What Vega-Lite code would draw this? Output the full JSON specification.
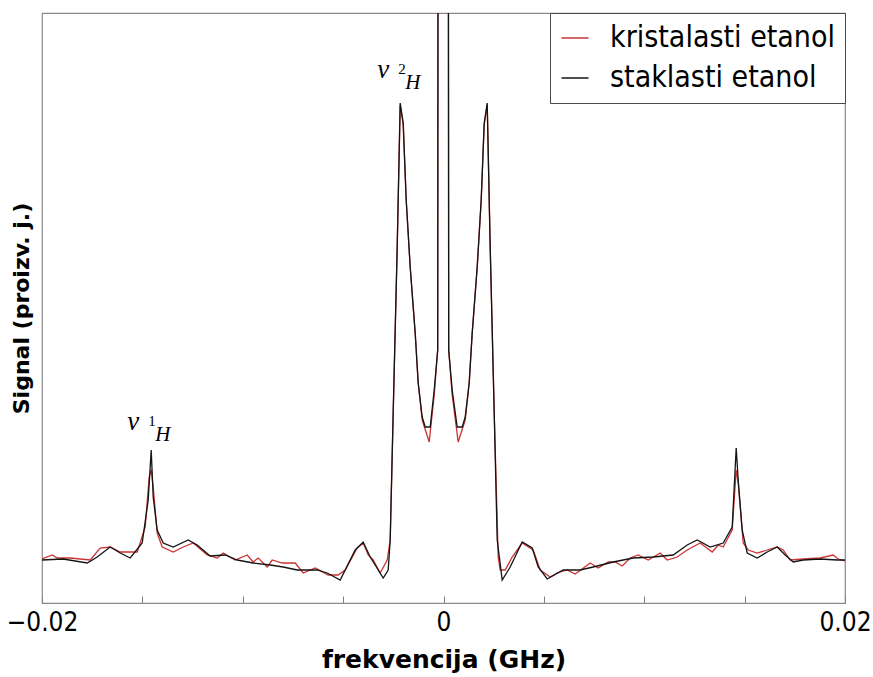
{
  "$schema": "https://vega.github.io/schema/vega-lite/v6.json",
  "width": 803,
  "height": 590,
  "autosize": {"type": "none"},
  "padding": {"left": 42, "top": 13, "right": 28, "bottom": 74},
  "background": "white",
  "config": {"view": {"stroke": "#8a8a8a", "strokeWidth": 1.2}},
  "datasets": {
    "spectra": [
      {"sample": "kristalasti etanol", "f": -0.02, "signal": 44},
      {"sample": "kristalasti etanol", "f": -0.019492, "signal": 48},
      {"sample": "kristalasti etanol", "f": -0.019243, "signal": 45},
      {"sample": "kristalasti etanol", "f": -0.018595, "signal": 45},
      {"sample": "kristalasti etanol", "f": -0.017599, "signal": 43},
      {"sample": "kristalasti etanol", "f": -0.017101, "signal": 55},
      {"sample": "kristalasti etanol", "f": -0.016603, "signal": 56},
      {"sample": "kristalasti etanol", "f": -0.016105, "signal": 51},
      {"sample": "kristalasti etanol", "f": -0.015258, "signal": 51},
      {"sample": "kristalasti etanol", "f": -0.014859, "signal": 76},
      {"sample": "kristalasti etanol", "f": -0.01466, "signal": 126},
      {"sample": "kristalasti etanol", "f": -0.01456, "signal": 133},
      {"sample": "kristalasti etanol", "f": -0.014461, "signal": 116},
      {"sample": "kristalasti etanol", "f": -0.014262, "signal": 70},
      {"sample": "kristalasti etanol", "f": -0.014013, "signal": 56},
      {"sample": "kristalasti etanol", "f": -0.013464, "signal": 51},
      {"sample": "kristalasti etanol", "f": -0.012966, "signal": 56},
      {"sample": "kristalasti etanol", "f": -0.012468, "signal": 60},
      {"sample": "kristalasti etanol", "f": -0.011771, "signal": 48},
      {"sample": "kristalasti etanol", "f": -0.011273, "signal": 45},
      {"sample": "kristalasti etanol", "f": -0.010974, "signal": 50},
      {"sample": "kristalasti etanol", "f": -0.010376, "signal": 43},
      {"sample": "kristalasti etanol", "f": -0.009778, "signal": 48},
      {"sample": "kristalasti etanol", "f": -0.00948, "signal": 41},
      {"sample": "kristalasti etanol", "f": -0.00923, "signal": 45},
      {"sample": "kristalasti etanol", "f": -0.008782, "signal": 36},
      {"sample": "kristalasti etanol", "f": -0.008533, "signal": 43},
      {"sample": "kristalasti etanol", "f": -0.008035, "signal": 40},
      {"sample": "kristalasti etanol", "f": -0.007387, "signal": 40},
      {"sample": "kristalasti etanol", "f": -0.006989, "signal": 30},
      {"sample": "kristalasti etanol", "f": -0.006391, "signal": 35},
      {"sample": "kristalasti etanol", "f": -0.005744, "signal": 28},
      {"sample": "kristalasti etanol", "f": -0.005245, "signal": 28},
      {"sample": "kristalasti etanol", "f": -0.004897, "signal": 33},
      {"sample": "kristalasti etanol", "f": -0.004299, "signal": 55},
      {"sample": "kristalasti etanol", "f": -0.004, "signal": 60},
      {"sample": "kristalasti etanol", "f": -0.003751, "signal": 48},
      {"sample": "kristalasti etanol", "f": -0.003502, "signal": 43},
      {"sample": "kristalasti etanol", "f": -0.003153, "signal": 30},
      {"sample": "kristalasti etanol", "f": -0.002804, "signal": 43},
      {"sample": "kristalasti etanol", "f": -0.002655, "signal": 63},
      {"sample": "kristalasti etanol", "f": -0.002506, "signal": 190},
      {"sample": "kristalasti etanol", "f": -0.002306, "signal": 356},
      {"sample": "kristalasti etanol", "f": -0.002157, "signal": 498},
      {"sample": "kristalasti etanol", "f": -0.002007, "signal": 478},
      {"sample": "kristalasti etanol", "f": -0.001858, "signal": 403},
      {"sample": "kristalasti etanol", "f": -0.001659, "signal": 336},
      {"sample": "kristalasti etanol", "f": -0.00141, "signal": 270},
      {"sample": "kristalasti etanol", "f": -0.00126, "signal": 220},
      {"sample": "kristalasti etanol", "f": -0.001061, "signal": 183},
      {"sample": "kristalasti etanol", "f": -0.000712, "signal": 161},
      {"sample": "kristalasti etanol", "f": -0.000463, "signal": 208},
      {"sample": "kristalasti etanol", "f": -0.000289, "signal": 253},
      {"sample": "kristalasti etanol", "f": -0.000264, "signal": 900},
      {"sample": "kristalasti etanol", "f": 0.000234, "signal": 900},
      {"sample": "kristalasti etanol", "f": 0.000259, "signal": 253},
      {"sample": "kristalasti etanol", "f": 0.000433, "signal": 208},
      {"sample": "kristalasti etanol", "f": 0.000732, "signal": 161},
      {"sample": "kristalasti etanol", "f": 0.001081, "signal": 183},
      {"sample": "kristalasti etanol", "f": 0.00128, "signal": 220},
      {"sample": "kristalasti etanol", "f": 0.00143, "signal": 270},
      {"sample": "kristalasti etanol", "f": 0.001679, "signal": 336},
      {"sample": "kristalasti etanol", "f": 0.001878, "signal": 403},
      {"sample": "kristalasti etanol", "f": 0.002027, "signal": 478},
      {"sample": "kristalasti etanol", "f": 0.002177, "signal": 498},
      {"sample": "kristalasti etanol", "f": 0.002326, "signal": 356},
      {"sample": "kristalasti etanol", "f": 0.002526, "signal": 190},
      {"sample": "kristalasti etanol", "f": 0.002725, "signal": 46},
      {"sample": "kristalasti etanol", "f": 0.002824, "signal": 33},
      {"sample": "kristalasti etanol", "f": 0.003074, "signal": 33},
      {"sample": "kristalasti etanol", "f": 0.003422, "signal": 46},
      {"sample": "kristalasti etanol", "f": 0.00392, "signal": 60},
      {"sample": "kristalasti etanol", "f": 0.004468, "signal": 53},
      {"sample": "kristalasti etanol", "f": 0.004817, "signal": 33},
      {"sample": "kristalasti etanol", "f": 0.005315, "signal": 26},
      {"sample": "kristalasti etanol", "f": 0.005664, "signal": 30},
      {"sample": "kristalasti etanol", "f": 0.006162, "signal": 33},
      {"sample": "kristalasti etanol", "f": 0.00656, "signal": 29},
      {"sample": "kristalasti etanol", "f": 0.007308, "signal": 40},
      {"sample": "kristalasti etanol", "f": 0.007706, "signal": 35},
      {"sample": "kristalasti etanol", "f": 0.008204, "signal": 41},
      {"sample": "kristalasti etanol", "f": 0.008553, "signal": 41},
      {"sample": "kristalasti etanol", "f": 0.008902, "signal": 37},
      {"sample": "kristalasti etanol", "f": 0.0093, "signal": 45},
      {"sample": "kristalasti etanol", "f": 0.009699, "signal": 48},
      {"sample": "kristalasti etanol", "f": 0.010197, "signal": 43},
      {"sample": "kristalasti etanol", "f": 0.010795, "signal": 50},
      {"sample": "kristalasti etanol", "f": 0.011143, "signal": 43},
      {"sample": "kristalasti etanol", "f": 0.011641, "signal": 46},
      {"sample": "kristalasti etanol", "f": 0.01214, "signal": 53},
      {"sample": "kristalasti etanol", "f": 0.012787, "signal": 60},
      {"sample": "kristalasti etanol", "f": 0.013385, "signal": 51},
      {"sample": "kristalasti etanol", "f": 0.013684, "signal": 58},
      {"sample": "kristalasti etanol", "f": 0.013933, "signal": 56},
      {"sample": "kristalasti etanol", "f": 0.014381, "signal": 73},
      {"sample": "kristalasti etanol", "f": 0.01458, "signal": 133},
      {"sample": "kristalasti etanol", "f": 0.01468, "signal": 120},
      {"sample": "kristalasti etanol", "f": 0.014929, "signal": 60},
      {"sample": "kristalasti etanol", "f": 0.015178, "signal": 53},
      {"sample": "kristalasti etanol", "f": 0.015626, "signal": 50},
      {"sample": "kristalasti etanol", "f": 0.016125, "signal": 53},
      {"sample": "kristalasti etanol", "f": 0.016623, "signal": 56},
      {"sample": "kristalasti etanol", "f": 0.016922, "signal": 53},
      {"sample": "kristalasti etanol", "f": 0.017271, "signal": 43},
      {"sample": "kristalasti etanol", "f": 0.017918, "signal": 44},
      {"sample": "kristalasti etanol", "f": 0.018765, "signal": 45},
      {"sample": "kristalasti etanol", "f": 0.019412, "signal": 48},
      {"sample": "kristalasti etanol", "f": 0.019661, "signal": 44},
      {"sample": "kristalasti etanol", "f": 0.02, "signal": 42},
      {"sample": "staklasti etanol", "f": -0.02, "signal": 43},
      {"sample": "staklasti etanol", "f": -0.018944, "signal": 44},
      {"sample": "staklasti etanol", "f": -0.017749, "signal": 40},
      {"sample": "staklasti etanol", "f": -0.01725, "signal": 46},
      {"sample": "staklasti etanol", "f": -0.016603, "signal": 56},
      {"sample": "staklasti etanol", "f": -0.016105, "signal": 50},
      {"sample": "staklasti etanol", "f": -0.015607, "signal": 45},
      {"sample": "staklasti etanol", "f": -0.015009, "signal": 60},
      {"sample": "staklasti etanol", "f": -0.01471, "signal": 103},
      {"sample": "staklasti etanol", "f": -0.01456, "signal": 153},
      {"sample": "staklasti etanol", "f": -0.014461, "signal": 106},
      {"sample": "staklasti etanol", "f": -0.014262, "signal": 73},
      {"sample": "staklasti etanol", "f": -0.013963, "signal": 60},
      {"sample": "staklasti etanol", "f": -0.013464, "signal": 56},
      {"sample": "staklasti etanol", "f": -0.012717, "signal": 63},
      {"sample": "staklasti etanol", "f": -0.012269, "signal": 58},
      {"sample": "staklasti etanol", "f": -0.011622, "signal": 47},
      {"sample": "staklasti etanol", "f": -0.010874, "signal": 48},
      {"sample": "staklasti etanol", "f": -0.010277, "signal": 43},
      {"sample": "staklasti etanol", "f": -0.00948, "signal": 40},
      {"sample": "staklasti etanol", "f": -0.008633, "signal": 38},
      {"sample": "staklasti etanol", "f": -0.007985, "signal": 36},
      {"sample": "staklasti etanol", "f": -0.007288, "signal": 33},
      {"sample": "staklasti etanol", "f": -0.006292, "signal": 33},
      {"sample": "staklasti etanol", "f": -0.005793, "signal": 30},
      {"sample": "staklasti etanol", "f": -0.005146, "signal": 23},
      {"sample": "staklasti etanol", "f": -0.004399, "signal": 53},
      {"sample": "staklasti etanol", "f": -0.004, "signal": 61},
      {"sample": "staklasti etanol", "f": -0.003651, "signal": 46},
      {"sample": "staklasti etanol", "f": -0.003004, "signal": 25},
      {"sample": "staklasti etanol", "f": -0.002755, "signal": 33},
      {"sample": "staklasti etanol", "f": -0.002655, "signal": 63},
      {"sample": "staklasti etanol", "f": -0.002506, "signal": 190},
      {"sample": "staklasti etanol", "f": -0.002306, "signal": 356},
      {"sample": "staklasti etanol", "f": -0.002157, "signal": 500},
      {"sample": "staklasti etanol", "f": -0.002007, "signal": 480},
      {"sample": "staklasti etanol", "f": -0.001858, "signal": 403},
      {"sample": "staklasti etanol", "f": -0.001659, "signal": 336},
      {"sample": "staklasti etanol", "f": -0.00141, "signal": 270},
      {"sample": "staklasti etanol", "f": -0.00126, "signal": 220},
      {"sample": "staklasti etanol", "f": -0.001061, "signal": 186},
      {"sample": "staklasti etanol", "f": -0.000912, "signal": 176},
      {"sample": "staklasti etanol", "f": -0.000663, "signal": 176},
      {"sample": "staklasti etanol", "f": -0.000463, "signal": 213},
      {"sample": "staklasti etanol", "f": -0.000289, "signal": 253},
      {"sample": "staklasti etanol", "f": -0.000264, "signal": 900},
      {"sample": "staklasti etanol", "f": 0.000234, "signal": 900},
      {"sample": "staklasti etanol", "f": 0.000259, "signal": 253},
      {"sample": "staklasti etanol", "f": 0.000433, "signal": 213},
      {"sample": "staklasti etanol", "f": 0.000682, "signal": 176},
      {"sample": "staklasti etanol", "f": 0.000932, "signal": 176},
      {"sample": "staklasti etanol", "f": 0.001081, "signal": 186},
      {"sample": "staklasti etanol", "f": 0.00128, "signal": 220},
      {"sample": "staklasti etanol", "f": 0.00143, "signal": 270},
      {"sample": "staklasti etanol", "f": 0.001679, "signal": 336},
      {"sample": "staklasti etanol", "f": 0.001878, "signal": 403},
      {"sample": "staklasti etanol", "f": 0.002027, "signal": 480},
      {"sample": "staklasti etanol", "f": 0.002177, "signal": 500},
      {"sample": "staklasti etanol", "f": 0.002326, "signal": 356},
      {"sample": "staklasti etanol", "f": 0.002526, "signal": 190},
      {"sample": "staklasti etanol", "f": 0.002675, "signal": 63},
      {"sample": "staklasti etanol", "f": 0.002924, "signal": 23},
      {"sample": "staklasti etanol", "f": 0.003323, "signal": 36},
      {"sample": "staklasti etanol", "f": 0.00392, "signal": 61},
      {"sample": "staklasti etanol", "f": 0.004418, "signal": 55},
      {"sample": "staklasti etanol", "f": 0.004717, "signal": 36},
      {"sample": "staklasti etanol", "f": 0.005166, "signal": 24},
      {"sample": "staklasti etanol", "f": 0.005963, "signal": 33},
      {"sample": "staklasti etanol", "f": 0.00681, "signal": 33},
      {"sample": "staklasti etanol", "f": 0.007457, "signal": 36},
      {"sample": "staklasti etanol", "f": 0.008453, "signal": 41},
      {"sample": "staklasti etanol", "f": 0.00945, "signal": 45},
      {"sample": "staklasti etanol", "f": 0.010446, "signal": 46},
      {"sample": "staklasti etanol", "f": 0.011442, "signal": 48},
      {"sample": "staklasti etanol", "f": 0.01214, "signal": 58},
      {"sample": "staklasti etanol", "f": 0.012638, "signal": 63},
      {"sample": "staklasti etanol", "f": 0.013285, "signal": 56},
      {"sample": "staklasti etanol", "f": 0.013933, "signal": 60},
      {"sample": "staklasti etanol", "f": 0.014381, "signal": 76},
      {"sample": "staklasti etanol", "f": 0.01458, "signal": 155},
      {"sample": "staklasti etanol", "f": 0.01468, "signal": 123},
      {"sample": "staklasti etanol", "f": 0.014879, "signal": 73},
      {"sample": "staklasti etanol", "f": 0.015128, "signal": 50},
      {"sample": "staklasti etanol", "f": 0.015626, "signal": 45},
      {"sample": "staklasti etanol", "f": 0.016125, "signal": 51},
      {"sample": "staklasti etanol", "f": 0.016623, "signal": 56},
      {"sample": "staklasti etanol", "f": 0.017021, "signal": 48},
      {"sample": "staklasti etanol", "f": 0.01742, "signal": 41},
      {"sample": "staklasti etanol", "f": 0.017918, "signal": 43},
      {"sample": "staklasti etanol", "f": 0.018765, "signal": 44},
      {"sample": "staklasti etanol", "f": 0.019611, "signal": 43},
      {"sample": "staklasti etanol", "f": 0.02, "signal": 43}
    ],
    "peaks": [
      {"f": -0.003303, "signal": 525, "n": "2"},
      {"f": -0.015756, "signal": 173, "n": "1"}
    ]
  },
  "layer": [
    {
      "data": {"name": "spectra"},
      "mark": {"type": "line", "clip": true, "strokeWidth": 1.3},
      "encoding": {
        "x": {
          "field": "f",
          "type": "quantitative",
          "scale": {"domain": [-0.02, 0.02], "nice": false, "zero": false},
          "axis": {
            "title": "frekvencija (GHz)",
            "titleFont": "DejaVu Sans",
            "titleFontWeight": "bold",
            "titleFontSize": 25,
            "titleColor": "#000000",
            "titlePadding": 12,
            "values": [-0.02, -0.015, -0.01, -0.005, 0, 0.005, 0.01, 0.015, 0.02],
            "labelExpr": "datum.value == 0 ? '0' : (abs(datum.value) > 0.019 ? format(datum.value, '.2f') : '')",
            "labelFont": "DejaVu Sans Condensed, Liberation Sans Narrow, Liberation Sans",
            "labelFontSize": 26,
            "labelColor": "#000000",
            "labelPadding": 13,
            "labelFlush": false,
            "labelOverlap": false,
            "tickSize": -7,
            "tickColor": "#808080",
            "tickWidth": 1,
            "domain": false,
            "grid": false
          }
        },
        "y": {
          "field": "signal",
          "type": "quantitative",
          "scale": {"domain": [0, 590], "nice": false, "zero": false},
          "axis": {
            "title": "Signal (proizv. j.)",
            "titleFont": "DejaVu Sans",
            "titleFontWeight": "bold",
            "titleFontSize": 22,
            "titleColor": "#000000",
            "titlePadding": 9,
            "ticks": false,
            "labels": false,
            "domain": false,
            "grid": false
          }
        },
        "color": {
          "field": "sample",
          "type": "nominal",
          "scale": {
            "domain": ["kristalasti etanol", "staklasti etanol"],
            "range": ["#cc3333", "#141414"]
          },
          "legend": {
            "title": null,
            "orient": "top-right",
            "offset": 0,
            "strokeColor": "#4a4a4a",
            "fillColor": "#ffffff",
            "padding": 10,
            "symbolType": "stroke",
            "symbolSize": 729,
            "symbolStrokeWidth": 1.5,
            "labelFont": "DejaVu Sans Condensed, Liberation Sans Narrow, Liberation Sans",
            "labelFontSize": 30,
            "labelColor": "#000000",
            "labelOffset": 20,
            "rowPadding": 10,
            "labelLimit": 400
          }
        }
      }
    },
    {
      "data": {"name": "peaks"},
      "mark": {"type": "text", "text": "ν", "align": "left", "baseline": "alphabetic", "font": "Liberation Serif", "fontStyle": "italic", "fontSize": 27, "color": "#000000"},
      "encoding": {
        "x": {"field": "f", "type": "quantitative"},
        "y": {"field": "signal", "type": "quantitative"}
      }
    },
    {
      "data": {"name": "peaks"},
      "mark": {"type": "text", "align": "left", "baseline": "alphabetic", "dx": 21, "dy": -4, "font": "Liberation Serif", "fontSize": 15, "color": "#000000"},
      "encoding": {
        "x": {"field": "f", "type": "quantitative"},
        "y": {"field": "signal", "type": "quantitative"},
        "text": {"field": "n", "type": "nominal"}
      }
    },
    {
      "data": {"name": "peaks"},
      "mark": {"type": "text", "text": "H", "align": "left", "baseline": "alphabetic", "dx": 28, "dy": 11, "font": "Liberation Serif", "fontStyle": "italic", "fontSize": 21, "color": "#000000"},
      "encoding": {
        "x": {"field": "f", "type": "quantitative"},
        "y": {"field": "signal", "type": "quantitative"}
      }
    }
  ]
}
